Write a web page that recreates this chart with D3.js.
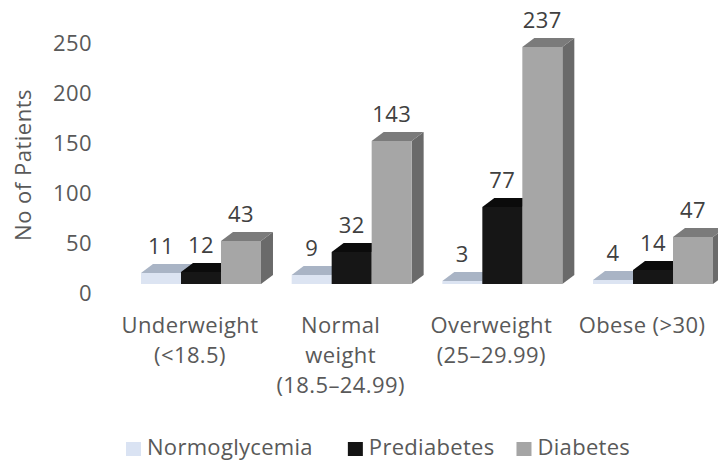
<!DOCTYPE html>
<html>
<head>
<meta charset="utf-8">
<script src="https://cdn.jsdelivr.net/npm/d3@7/dist/d3.min.js"></script>
<style>
  html, body { margin: 0; padding: 0; background: #ffffff; }
  svg { display: block; }
  text { font-family: "Open Sans", "Noto Sans", sans-serif; }
</style>
</head>
<body>
<svg id="chart" width="718" height="461"></svg>
<script>
// BMI categories (wrapped into lines for the category axis)
const categories = ["Underweight", "Normal weight", "Overweight", "Obese"];
const categoryLines = [
  ["Underweight", "(<18.5)"],
  ["Normal", "weight", "(18.5–24.99)"],
  ["Overweight", "(25–29.99)"],
  ["Obese (>30)"]
];
const series = ["Normoglycemia", "Prediabetes", "Diabetes"];
const normoglycemia = [11, 9, 3, 4];
const prediabetes = [12, 32, 77, 14];
const diabetes = [43, 143, 237, 47];
const yTicks = [0, 50, 100, 150, 200, 250];

const values = [normoglycemia, prediabetes, diabetes];

// face colours per series: front, top, side
const faces = {
  Normoglycemia: { front: "#dce4f2", top: "#a9b4c5", side: "#8f9aab", swatch: "#dae3f3" },
  Prediabetes:   { front: "#161616", top: "#0b0b0b", side: "#050505", swatch: "#141414" },
  Diabetes:      { front: "#a6a6a6", top: "#7b7b7b", side: "#6a6a6a", swatch: "#a5a5a5" }
};

const svg = d3.select("#chart");
const depthX = 12, depthY = 9;   // oblique offset of the 3D column depth

const y = d3.scaleLinear().domain([0, 250]).range([284, 34]);
const x = d3.scaleBand().domain(categories).range([141, 713])
  .paddingInner(0.2037).paddingOuter(0);
const xs = d3.scaleBand().domain(series).range([0, x.bandwidth()]).padding(0);

const textColor = "#595959";
const fontSize = 22;

// value axis, drawn on the front floor line
const yAxis = d3.axisLeft(y).tickValues(yTicks).tickSize(0).tickPadding(4);
const gy = svg.append("g").attr("transform", `translate(96,${depthY})`).call(yAxis);
gy.select(".domain").remove();
gy.selectAll("text")
  .attr("fill", textColor)
  .style("font-size", fontSize + "px")
  .style("font-family", '"Open Sans", sans-serif')
  .style("letter-spacing", "0.4px");

svg.append("text")
  .attr("transform", "translate(31,165) rotate(-90)")
  .attr("text-anchor", "middle")
  .attr("fill", textColor)
  .style("font-size", fontSize + "px")
  .style("letter-spacing", "0.5px")
  .text("No of Patients");

// 3D columns
const bars = [];
categories.forEach((c, ci) => {
  series.forEach((s, si) => {
    bars.push({ cat: c, ser: s, value: values[si][ci] });
  });
});

const barG = svg.append("g");
bars.forEach(d => {
  const x0 = x(d.cat) + xs(d.ser);
  const w = xs.bandwidth();
  const yt = y(d.value);
  const yb = y(0);
  const f = faces[d.ser];
  const g = barG.append("g");
  g.append("polygon")
    .attr("points", [[x0 + w, yt], [x0 + w + depthX, yt - depthY], [x0 + w + depthX, yb - depthY], [x0 + w, yb]].join(" "))
    .attr("fill", f.side);
  g.append("polygon")
    .attr("points", [[x0, yt], [x0 + depthX, yt - depthY], [x0 + w + depthX, yt - depthY], [x0 + w, yt]].join(" "))
    .attr("fill", f.top);
  g.append("rect")
    .attr("x", x0).attr("y", yt)
    .attr("width", w).attr("height", yb - yt)
    .attr("fill", f.front);
});

// value labels above each column
svg.append("g").selectAll("text").data(bars).join("text")
  .attr("x", d => x(d.cat) + xs(d.ser) + xs.bandwidth() / 2)
  .attr("y", d => y(d.value) - depthY - 10)
  .attr("text-anchor", "middle")
  .attr("fill", "#404040")
  .style("font-size", fontSize + "px")
  .style("letter-spacing", "0.4px")
  .text(d => d.value);

// category labels
const catG = svg.append("g");
categories.forEach((c, i) => {
  const t = catG.append("text")
    .attr("x", x(c) + x.bandwidth() / 2 - 11)
    .attr("y", 333)
    .attr("text-anchor", "middle")
    .attr("fill", textColor)
    .style("font-size", fontSize + "px")
    .style("letter-spacing", "0.4px");
  categoryLines[i].forEach((line, li) => {
    t.append("tspan")
      .attr("x", x(c) + x.bandwidth() / 2 - 11)
      .attr("dy", li === 0 ? 0 : 30)
      .text(line);
  });
});

// legend
const legendGaps = [35, 22];
const legend = svg.append("g").attr("transform", "translate(126,455)");
let lx = 0;
series.forEach((s, i) => {
  const item = legend.append("g").attr("transform", `translate(${lx},0)`);
  item.append("rect").attr("x", 0).attr("y", -13).attr("width", 15).attr("height", 14)
    .attr("fill", faces[s].swatch);
  const t = item.append("text").attr("x", 21).attr("y", 0)
    .attr("fill", textColor)
    .style("font-size", fontSize + "px")
    .style("letter-spacing", "0.3px")
    .text(s);
  lx += 21 + t.node().getComputedTextLength() + (legendGaps[i] || 0);
});
</script>
</body>
</html>
